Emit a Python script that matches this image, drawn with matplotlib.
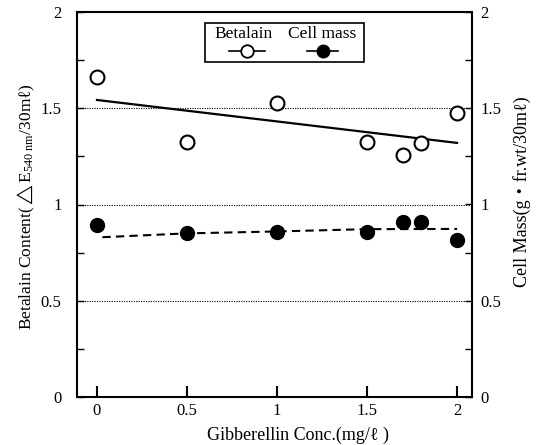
import matplotlib
matplotlib.use("Agg")
import matplotlib.pyplot as plt
from matplotlib.lines import Line2D
from matplotlib.patches import Rectangle
from matplotlib.ticker import MultipleLocator

plt.rcParams['font.family'] = ['Liberation Serif', 'DejaVu Serif', 'Noto Sans CJK JP']
plt.rcParams['mathtext.fontset'] = 'custom'
plt.rcParams['mathtext.rm'] = 'Liberation Serif'
plt.rcParams['mathtext.it'] = 'Liberation Serif:italic'

# Data
conc = [0.0, 0.5, 1.0, 1.5, 1.7, 1.8, 2.0]
betalain = [1.66, 1.325, 1.527, 1.325, 1.257, 1.32, 1.475]
cell_mass = [0.894, 0.852, 0.857, 0.857, 0.91, 0.91, 0.816]
betalain_fit_x = [0.0, 2.0]
betalain_fit_y = [1.543, 1.32]
mass_fit_x = [0.03, 0.5, 1.0, 1.5, 2.0]
mass_fit_y = [0.83, 0.85, 0.86, 0.872, 0.873]
xticks = [0, 0.5, 1, 1.5, 2]
xticklabels = ['0', '0.5', '1', '1.5', '2']
yticks = [0, 0.5, 1, 1.5, 2]
yticklabels = ['0', '0.5', '1', '1.5', '2']

W, H = 539, 445
fig = plt.figure(figsize=(W / 100, H / 100), dpi=100)
ax = fig.add_axes([77 / W, 1 - 397 / H, (472 - 77) / W, (397 - 12) / H])

ax.set_xlim(-0.111, 2.083)
ax.set_ylim(0, 2)

for g in [0.5, 1.0, 1.5]:
    ax.axhline(g, color='black', lw=0.8, ls=(0, (1, 1.2)), zorder=1)

ax.plot(betalain_fit_x, betalain_fit_y, color='black', lw=1.6, zorder=2)
ax.plot(mass_fit_x, mass_fit_y, color='black', lw=1.5, ls=(0, (4, 2.5)), zorder=2)
ax.plot(conc, betalain, ls='none', marker='o', ms=10, mfc='white', mec='black', mew=1.5, zorder=3)
ax.plot(conc, cell_mass, ls='none', marker='o', ms=10, mfc='black', mec='black', zorder=3)

for s in ax.spines.values():
    s.set_linewidth(1.5)

ax.set_xticks(xticks)
ax.set_xticklabels(xticklabels, fontsize=12)
ax.tick_params(axis='x', direction='in', length=8, width=1.5, pad=4)
ax.set_yticks(yticks)
ax.set_yticklabels(yticklabels, fontsize=12)
ax.yaxis.set_minor_locator(MultipleLocator(0.25))
ax.tick_params(axis='y', which='both', direction='in', left=True, right=False,
               length=5, width=1.0, pad=11)

ax2 = ax.twinx()
ax2.set_ylim(0, 2)
ax2.set_yticks(yticks)
ax2.set_yticklabels(yticklabels, fontsize=12)
ax2.yaxis.set_minor_locator(MultipleLocator(0.25))
ax2.tick_params(axis='y', which='both', direction='in', length=5, width=1.0, pad=6)
for s in ax2.spines.values():
    s.set_visible(False)


def fx(px):
    return px / W


def fy(py):
    return 1 - py / H


# Axis titles
fig.text(fx(298), fy(435), 'Gibberellin Conc.(mg/ℓ )', ha='center', va='center', fontsize=13)
fig.text(fx(26), fy(207), r'Betalain Content($\triangle$E$_{540\ \mathrm{nm}}$/30mℓ)',
         ha='center', va='center', rotation=90, fontsize=12.5)
fig.text(fx(522), fy(192), 'Cell Mass(g・fr.wt/30mℓ)', ha='center', va='center',
         rotation=90, fontsize=13)

# Legend box
fig.add_artist(Rectangle((fx(205), fy(62)), fx(364) - fx(205), fy(23) - fy(62),
                         transform=fig.transFigure, fill=False, ec='black', lw=1.2))
fig.text(fx(244), fy(34), 'Betalain', ha='center', va='center', fontsize=12.5)
fig.text(fx(322), fy(34), 'Cell mass', ha='center', va='center', fontsize=12.5)
fig.add_artist(Line2D([fx(229), fx(265)], [fy(51), fy(51)], transform=fig.transFigure,
                      color='black', lw=1.2))
fig.add_artist(Line2D([fx(247)], [fy(51)], transform=fig.transFigure, marker='o', ms=9,
                      mfc='white', mec='black', mew=1.3, ls='none'))
fig.add_artist(Line2D([fx(307), fx(338)], [fy(51), fy(51)], transform=fig.transFigure,
                      color='black', lw=1.2))
fig.add_artist(Line2D([fx(323)], [fy(51)], transform=fig.transFigure, marker='o', ms=9,
                      mfc='black', mec='black', ls='none'))

fig.savefig('out.png', dpi=100)
